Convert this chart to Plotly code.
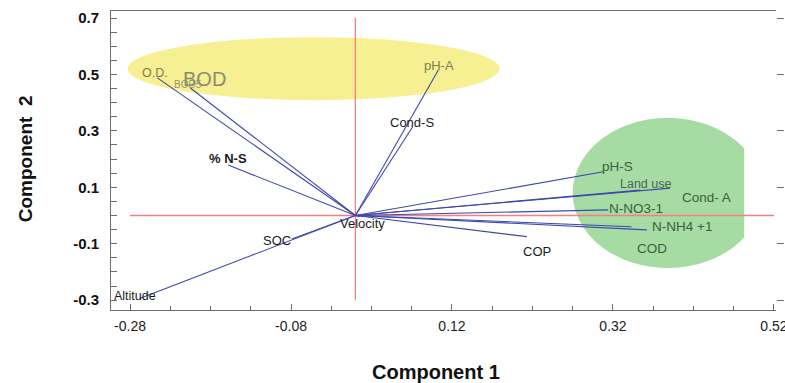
import numpy as np
import plotly.graph_objects as go

# ---- data ----
variables = ["O.D.", "BOD5", "% N-S", "pH-A", "Cond-S", "pH-S", "Land use", "Cond- A",
             "N-NO3-1", "N-NH4 +1", "COD", "COP", "Velocity", "SOC", "Altitude"]
component1 = [-0.246, -0.205, -0.158, 0.103, 0.071, 0.308, 0.391, 0.354,
              0.314, 0.362, 0.343, 0.213, 0.005, -0.079, -0.268]
component2 = [0.488, 0.452, 0.179, 0.516, 0.314, 0.155, 0.097, 0.090,
              0.020, -0.051, -0.040, -0.075, -0.004, -0.083, -0.294]
x_ticks = [-0.28, -0.08, 0.12, 0.32, 0.52]
x_tick_labels = ["-0.28", "-0.08", "0.12", "0.32", "0.52"]
y_ticks = [-0.3, -0.1, 0.1, 0.3, 0.5, 0.7]
y_tick_labels = ["-0.3", "-0.1", "0.1", "0.3", "0.5", "0.7"]

# ---- styles ----
FONT = "Liberation Sans, Arial, sans-serif"
VEC_COLOR = "rgb(62,72,172)"
RED = "rgb(244,128,128)"
AX = "rgb(110,110,110)"
YEL_TXT = "rgb(125,125,85)"
GRN_TXT = "rgb(60,95,62)"
# label offsets in pixels (xshift, yshift), colour, size, bold
label_style = {
    "O.D.": (-2, 5, YEL_TXT, 12.5, False),
    "BOD5": (-2, 4, "rgb(150,150,110)", 10, False),
    "% N-S": (0, 7, "#1a1a1a", 13, True),
    "pH-A": (1, 4, YEL_TXT, 13, False),
    "Cond-S": (-1, 4, "#1a1a1a", 13, False),
    "pH-S": (14, 5, GRN_TXT, 13.5, False),
    "Land use": (-25, 4.5, "rgb(75,105,75)", 12.5, False),
    "Cond- A": (66, -7, GRN_TXT, 13.5, False),
    "N-NO3-1": (28, 1.5, GRN_TXT, 13.5, False),
    "N-NH4 +1": (35, 3.5, GRN_TXT, 13.5, False),
    "COD": (20, -21.5, GRN_TXT, 13.5, False),
    "COP": (10, -15, "#1a1a1a", 13, False),
    "Velocity": (3, -6.5, "#1a1a1a", 13, False),
    "SOC": (-15, -2, "#1a1a1a", 13, False),
    "Altitude": (-5, 2, "#1a1a1a", 12.5, False),
}

fig = go.Figure()

# ellipses (shapes)
shapes = []
shapes.append(dict(type="circle", xref="x", yref="y", layer="below",
                   x0=-0.283, x1=0.179, y0=0.409, y1=0.632,
                   fillcolor="rgb(246,240,146)", line=dict(width=0)))
t = np.linspace(0, 2 * np.pi, 200)
cx, cy, rx, ry, xclip = 0.388, 0.080, 0.118, 0.266, 0.483
ex = np.minimum(cx + rx * np.cos(t), xclip)
ey = cy + ry * np.sin(t)
path = "M " + " L ".join(f"{a:.5f},{b:.5f}" for a, b in zip(ex, ey)) + " Z"
shapes.append(dict(type="path", xref="x", yref="y", layer="below", path=path,
                   fillcolor="rgb(166,219,164)", line=dict(width=0)))

# red cross-hair lines
fig.add_trace(go.Scatter(x=[x_ticks[0], x_ticks[-1]], y=[0, 0],
                         mode="lines", line=dict(color=RED, width=1.3),
                         hoverinfo="skip", showlegend=False))
fig.add_trace(go.Scatter(x=[0, 0], y=[y_ticks[0], y_ticks[-1]],
                         mode="lines", line=dict(color=RED, width=1.3),
                         hoverinfo="skip", showlegend=False))

# loading vectors
vx, vy = [], []
for a, b in zip(component1, component2):
    vx += [0, a, None]
    vy += [0, b, None]
fig.add_trace(go.Scatter(x=vx, y=vy, mode="lines",
                         line=dict(color=VEC_COLOR, width=1.1),
                         hoverinfo="skip", showlegend=False))

# invisible trace carrying the right-hand tick axis
fig.add_trace(go.Scatter(x=[x_ticks[0]], y=[y_ticks[0]], yaxis="y2", mode="markers",
                         marker=dict(opacity=0), hoverinfo="skip", showlegend=False))

annotations = []
for name, a, b in zip(variables, component1, component2):
    dx, dy, col, size, bold = label_style[name]
    txt = f"<b>{name}</b>" if bold else name
    annotations.append(dict(x=a, y=b, xref="x", yref="y", text=txt, showarrow=False,
                            xshift=dx, yshift=dy, xanchor="center", yanchor="middle",
                            font=dict(family=FONT, size=size, color=col)))
# large BOD overlay label
i_bod = variables.index("BOD5")
annotations.append(dict(x=component1[i_bod], y=component2[i_bod], xref="x", yref="y",
                        text="BOD", showarrow=False, xshift=14, yshift=9,
                        font=dict(family=FONT, size=20, color="rgb(140,140,118)")))
# axis titles
annotations.append(dict(x=0.4887, y=-0.209, xref="paper", yref="paper", text="<b>Component 1</b>",
                        showarrow=False, xanchor="center", yanchor="middle",
                        font=dict(family=FONT, size=20, color="#111")))
annotations.append(dict(x=-0.129, y=0.505, xref="paper", yref="paper", text="<b>Component\u00a0\u00a02</b>",
                        showarrow=False, xanchor="center", yanchor="middle", textangle=-90,
                        font=dict(family=FONT, size=19, color="#111")))

fig.update_layout(
    width=785, height=383,
    margin=dict(l=111, r=9, t=11, b=73, autoexpand=False),
    paper_bgcolor="white", plot_bgcolor="white",
    shapes=shapes, annotations=annotations,
    xaxis=dict(range=[-0.3036, 0.5225], tickvals=x_ticks, ticktext=x_tick_labels,
               ticks="inside", ticklen=6, tickcolor=AX, showline=True, linecolor=AX,
               linewidth=1, mirror=True, showgrid=False, zeroline=False,
               ticklabelstandoff=3, ticklabeloverflow="allow", automargin=False,
               tickfont=dict(family=FONT, size=14, color="#222"),
               minor=dict(dtick=0.05, tick0=-0.28, ticks="inside", ticklen=4,
                          tickcolor=AX, showgrid=False)),
    yaxis=dict(range=[-0.335, 0.725], tickvals=y_ticks, ticktext=y_tick_labels,
               ticks="inside", ticklen=6, tickcolor=AX, showline=True, linecolor=AX,
               linewidth=1, mirror=False, showgrid=False, zeroline=False,
               ticklabelstandoff=8, automargin=False,
               tickfont=dict(family=FONT, size=15, color="#111", weight="bold"),
               minor=dict(dtick=0.05, tick0=-0.3, ticks="inside", ticklen=6,
                          tickcolor=AX, showgrid=False)),
    yaxis2=dict(overlaying="y", side="right", range=[-0.335, 0.725], tickvals=y_ticks,
                showticklabels=False, ticks="outside", ticklen=7, tickcolor=AX,
                showline=False, showgrid=False, zeroline=False, automargin=False),
)

fig.write_html("out.html", config={"displayModeBar": False},
               post_script="document.body.style.margin='0';document.body.style.padding='0';")
